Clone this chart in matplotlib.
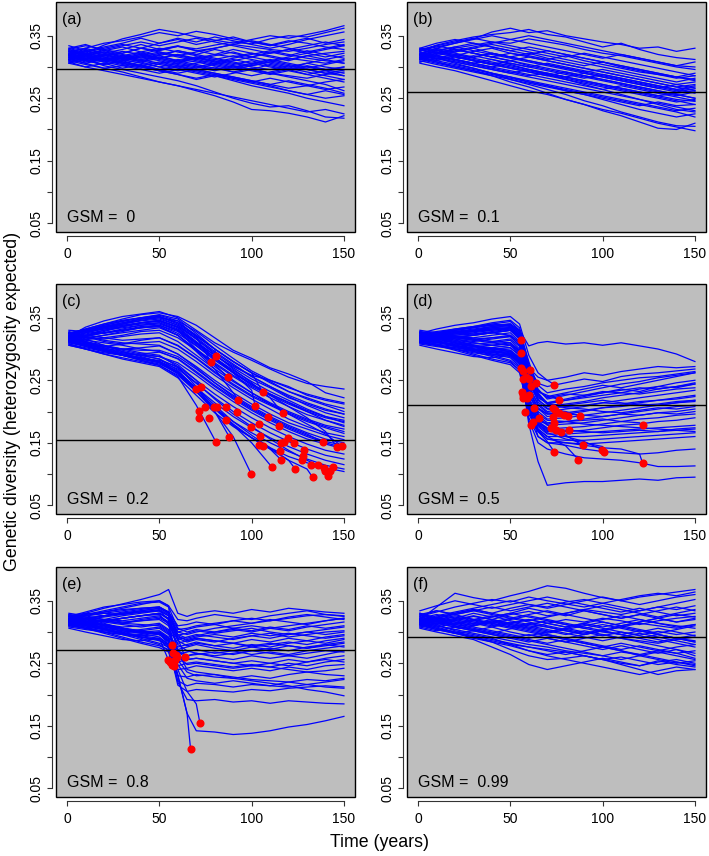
#coding:utf-8
import numpy as np
import matplotlib
matplotlib.use("Agg")
import matplotlib.pyplot as plt
from matplotlib.patches import Rectangle

plt.rcParams['font.family'] = ['Liberation Sans', 'DejaVu Sans']

# knot years for the trajectories
T_STD = [1, 10, 20, 30, 40, 50, 60, 70, 80, 90, 100, 110, 120, 130, 140, 150]
T_DROP = [1, 10, 20, 30, 40, 50, 55, 60, 65, 70, 80, 90, 100, 110, 120, 130, 140, 150]

# all diversity values below are x1000
# ---- (a) GSM = 0
a_lines = [
    [320, 325, 318, 322, 330, 326, 333, 329, 335, 340, 337, 345, 350, 348, 355, 362],
    [315, 322, 335, 345, 352, 360, 355, 348, 343, 338, 344, 350, 346, 352, 358, 366],
    [325, 330, 338, 342, 348, 355, 350, 357, 352, 345, 340, 335, 342, 338, 332, 328],
    [318, 312, 318, 325, 320, 328, 333, 326, 330, 336, 332, 328, 325, 330, 336, 340],
    [330, 322, 316, 310, 318, 312, 306, 314, 320, 316, 322, 318, 312, 318, 322, 325],
    [312, 318, 310, 304, 298, 305, 312, 308, 302, 296, 302, 308, 314, 310, 306, 312],
    [322, 316, 320, 314, 308, 300, 294, 300, 306, 312, 306, 300, 295, 301, 296, 300],
    [310, 304, 298, 302, 296, 290, 296, 290, 284, 290, 296, 290, 286, 282, 288, 292],
    [328, 320, 312, 306, 300, 294, 288, 282, 288, 282, 276, 282, 276, 270, 276, 280],
    [316, 310, 314, 308, 302, 308, 302, 296, 290, 284, 278, 272, 266, 270, 264, 268],
    [306, 300, 294, 288, 282, 276, 270, 264, 258, 252, 246, 240, 234, 228, 232, 225],
    [320, 312, 302, 296, 290, 284, 278, 270, 260, 250, 242, 236, 238, 230, 220, 218],
    [314, 306, 298, 292, 284, 276, 270, 262, 254, 244, 232, 230, 226, 220, 212, 222],
    [324, 318, 312, 318, 312, 306, 300, 294, 288, 282, 276, 270, 262, 256, 250, 254],
    [312, 318, 324, 318, 324, 330, 324, 318, 312, 306, 300, 296, 302, 296, 290, 286],
    [318, 324, 330, 336, 330, 324, 318, 324, 330, 336, 342, 336, 330, 324, 330, 336],
    [308, 314, 308, 302, 308, 314, 320, 314, 308, 314, 320, 326, 320, 314, 310, 306],
    [326, 320, 326, 320, 314, 320, 326, 320, 314, 308, 302, 308, 302, 296, 290, 295],
    [320, 314, 308, 314, 320, 314, 308, 302, 296, 302, 296, 290, 284, 278, 272, 262],
    [316, 322, 316, 310, 316, 322, 316, 310, 304, 310, 316, 310, 304, 298, 304, 310],
    [328, 334, 328, 334, 340, 334, 340, 346, 340, 334, 328, 322, 328, 334, 340, 334],
    [312, 306, 312, 306, 300, 294, 300, 306, 312, 318, 312, 306, 300, 306, 312, 318],
    [322, 328, 322, 316, 310, 316, 310, 304, 298, 292, 286, 292, 298, 292, 286, 280],
    [314, 320, 314, 308, 302, 296, 290, 296, 290, 284, 278, 272, 278, 272, 266, 258],
    [318, 310, 304, 310, 316, 310, 304, 298, 304, 298, 304, 310, 316, 322, 316, 322],
    [330, 336, 326, 332, 324, 318, 326, 320, 328, 322, 316, 324, 318, 326, 320, 314],
    [308, 300, 306, 298, 304, 296, 302, 294, 300, 292, 298, 290, 296, 288, 294, 286],
    [324, 330, 322, 328, 336, 328, 334, 326, 320, 328, 322, 316, 310, 318, 312, 306],
    [316, 308, 314, 306, 312, 318, 310, 316, 308, 302, 296, 304, 298, 306, 300, 296],
    [334, 326, 332, 338, 346, 338, 344, 336, 342, 348, 340, 334, 340, 346, 338, 344],
    [310, 316, 310, 316, 310, 304, 298, 292, 286, 280, 274, 268, 262, 256, 262, 256],
    [320, 326, 320, 314, 320, 314, 308, 316, 310, 304, 310, 302, 296, 302, 296, 290],
    [326, 318, 324, 316, 322, 314, 320, 312, 318, 324, 316, 322, 328, 322, 328, 334],
    [312, 320, 328, 322, 330, 338, 346, 340, 348, 342, 336, 330, 336, 344, 350, 356],
    [318, 312, 304, 310, 302, 294, 288, 280, 286, 278, 270, 264, 258, 250, 244, 238],
    [322, 314, 320, 312, 318, 324, 318, 312, 306, 300, 306, 312, 306, 300, 294, 300],
    [306, 312, 318, 312, 306, 300, 306, 300, 294, 300, 294, 288, 294, 288, 282, 276],
]
a_hline = 0.297

# ---- (b) GSM = 0.1
b_lines = [
    [320, 330, 338, 345, 356, 362, 355, 358, 350, 345, 340, 336, 330, 332, 325, 330],
    [325, 335, 342, 348, 352, 355, 360, 352, 348, 340, 332, 338, 328, 320, 315, 312],
    [315, 322, 330, 335, 340, 338, 345, 340, 335, 328, 322, 318, 312, 306, 300, 296],
    [318, 324, 318, 325, 330, 322, 318, 312, 318, 310, 304, 298, 292, 288, 284, 290],
    [330, 326, 320, 315, 322, 316, 310, 304, 298, 292, 296, 290, 284, 278, 272, 276],
    [312, 318, 312, 306, 300, 306, 300, 294, 288, 282, 288, 282, 276, 270, 264, 270],
    [322, 316, 310, 304, 298, 292, 286, 290, 284, 278, 272, 266, 260, 254, 258, 262],
    [310, 304, 298, 292, 286, 280, 274, 268, 262, 256, 250, 244, 238, 244, 238, 240],
    [328, 322, 316, 310, 304, 298, 292, 286, 280, 274, 268, 262, 256, 250, 244, 248],
    [316, 310, 304, 298, 290, 284, 276, 270, 262, 256, 248, 240, 232, 226, 220, 225],
    [306, 300, 294, 286, 278, 270, 262, 256, 248, 240, 232, 226, 218, 210, 204, 198],
    [320, 314, 306, 298, 290, 280, 272, 264, 256, 246, 238, 228, 220, 212, 206, 205],
    [314, 308, 300, 294, 286, 276, 268, 258, 248, 240, 230, 222, 212, 202, 200, 210],
    [324, 318, 312, 318, 312, 304, 296, 288, 280, 272, 264, 256, 248, 240, 232, 228],
    [312, 318, 312, 306, 312, 306, 300, 306, 300, 294, 288, 282, 276, 270, 264, 258],
    [318, 326, 332, 338, 332, 326, 332, 326, 320, 314, 308, 302, 296, 290, 284, 280],
    [308, 314, 308, 302, 296, 290, 296, 290, 284, 278, 272, 266, 260, 254, 248, 245],
    [326, 332, 338, 344, 350, 344, 338, 332, 326, 320, 314, 320, 314, 308, 302, 300],
    [320, 314, 320, 314, 308, 302, 296, 290, 284, 290, 284, 278, 272, 266, 260, 265],
    [316, 322, 328, 322, 316, 310, 304, 298, 292, 286, 280, 274, 268, 262, 256, 250],
    [328, 334, 340, 346, 340, 334, 328, 322, 316, 322, 316, 310, 304, 298, 292, 286],
    [312, 306, 300, 294, 288, 282, 276, 270, 264, 258, 252, 246, 240, 234, 228, 220],
    [322, 328, 322, 316, 322, 316, 310, 304, 298, 292, 286, 280, 274, 268, 262, 268],
    [314, 308, 302, 296, 290, 284, 278, 272, 266, 260, 254, 248, 242, 236, 230, 234],
    [322, 330, 324, 330, 322, 316, 322, 314, 308, 302, 308, 300, 294, 288, 282, 286],
    [318, 312, 318, 310, 304, 310, 302, 296, 290, 284, 278, 272, 266, 260, 254, 260],
    [326, 334, 328, 322, 316, 310, 316, 310, 304, 298, 292, 286, 280, 274, 268, 272],
    [312, 318, 312, 306, 300, 294, 288, 282, 276, 270, 264, 270, 264, 258, 252, 246],
    [330, 338, 344, 338, 332, 326, 320, 326, 320, 314, 308, 302, 296, 290, 284, 278],
    [316, 310, 316, 310, 304, 298, 292, 286, 292, 286, 280, 274, 268, 262, 256, 250],
    [320, 326, 332, 326, 320, 314, 308, 302, 296, 290, 284, 278, 272, 266, 272, 266],
    [308, 314, 308, 302, 296, 290, 284, 278, 272, 266, 260, 254, 248, 242, 236, 230],
    [324, 318, 324, 330, 336, 330, 324, 318, 312, 306, 300, 294, 288, 282, 276, 282],
    [314, 320, 326, 332, 338, 344, 350, 344, 338, 332, 326, 320, 314, 308, 302, 308],
    [328, 322, 328, 322, 316, 322, 316, 310, 304, 298, 292, 286, 280, 274, 268, 262],
    [318, 324, 318, 312, 306, 300, 294, 288, 282, 276, 270, 264, 258, 252, 246, 240],
]
b_hline = 0.260

# ---- (c) GSM = 0.2
c_lines = [
    [320, 335, 345, 352, 356, 360, 350, 330, 310, 295, 282, 268, 255, 245, 240, 236],
    [325, 332, 340, 348, 355, 358, 352, 338, 318, 298, 285, 270, 260, 248, 230, 222],
    [315, 326, 334, 340, 348, 352, 340, 320, 300, 280, 262, 248, 232, 222, 212, 205],
    [318, 322, 328, 336, 342, 345, 335, 312, 290, 270, 252, 238, 222, 212, 202, 196],
    [330, 328, 325, 330, 336, 338, 325, 305, 282, 262, 242, 228, 215, 202, 192, 186],
    [312, 315, 318, 322, 328, 330, 318, 298, 276, 256, 238, 222, 208, 195, 186, 178],
    [322, 318, 316, 320, 324, 326, 312, 290, 268, 248, 230, 214, 200, 188, 178, 172],
    [310, 306, 304, 308, 314, 318, 305, 285, 262, 242, 224, 210, 196, 184, 174, 165],
    [328, 320, 312, 308, 310, 312, 300, 280, 258, 238, 220, 204, 188, 176, 166, 160],
    [316, 310, 304, 300, 302, 305, 292, 272, 250, 230, 212, 196, 182, 172, 162, 155],
    [306, 300, 294, 290, 292, 295, 285, 264, 242, 222, 204, 188, 174, 162, 152, 146],
    [320, 312, 302, 294, 290, 288, 278, 258, 236, 216, 198, 182, 168, 156, 148, 140],
    [314, 306, 298, 290, 284, 282, 272, 250, 228, 208, 190, 174, 160, 148, 138, 132],
    [324, 316, 306, 296, 288, 280, 268, 245, 222, 200, 182, 166, 152, 140, 130, 124],
    [312, 304, 296, 290, 282, 276, 262, 238, 214, 192, 174, 158, 144, 132, 122, 115],
    [318, 310, 300, 290, 282, 274, 258, 232, 206, 184, 166, 150, 136, 124, 114, 108],
    [308, 300, 292, 284, 278, 272, 254, 226, 198, 176, 158, 142, 128, 118, 110, 104],
    [326, 330, 338, 344, 350, 354, 345, 328, 306, 285, 265, 250, 238, 228, 220, 214],
    [320, 328, 336, 340, 345, 348, 338, 318, 296, 276, 256, 240, 224, 210, 198, 190],
    [316, 322, 330, 336, 340, 342, 330, 308, 286, 266, 248, 232, 218, 204, 192, 182],
    [322, 330, 336, 342, 348, 352, 342, 322, 300, 280, 262, 246, 232, 220, 210, 200],
    [314, 318, 322, 326, 330, 334, 322, 300, 278, 258, 240, 226, 212, 200, 190, 184],
    [326, 322, 318, 314, 316, 318, 306, 286, 264, 244, 226, 212, 198, 186, 176, 168],
    [310, 316, 322, 328, 334, 338, 328, 306, 284, 262, 244, 228, 214, 200, 186, 176],
    [318, 314, 310, 306, 300, 296, 284, 262, 240, 220, 202, 186, 172, 160, 150, 142],
    [324, 328, 332, 336, 342, 346, 336, 316, 294, 274, 256, 240, 226, 214, 204, 196],
    [312, 308, 304, 300, 298, 298, 288, 268, 246, 226, 208, 192, 178, 166, 156, 150],
    [320, 324, 330, 334, 338, 340, 330, 310, 290, 272, 258, 250, 240, 226, 218, 212],
]
# runs that went extinct: knots up to the last one before the red dot
c_dying = [
    [318, 326, 334, 340, 346, 350, 345, 320],
    [322, 330, 338, 345, 350, 355, 348, 325, 300],
    [315, 320, 326, 332, 338, 342, 330, 300, 275],
    [312, 306, 298, 290, 284, 278, 262],
    [320, 312, 304, 298, 292, 288, 275, 250],
    [325, 332, 340, 346, 350, 352, 342, 322, 300, 280, 262],
    [316, 322, 326, 330, 334, 336, 322, 296, 268, 230],
    [310, 304, 298, 292, 286, 280, 262, 232, 200, 160],
    [314, 308, 300, 292, 286, 280, 264, 236, 206, 178, 150],
    [318, 310, 302, 296, 290, 284, 266, 236, 206, 180, 158, 140, 122, 108],
    [306, 300, 292, 286, 280, 274, 256, 210],
    [324, 330, 336, 342, 348, 350, 338, 316, 292, 268, 246, 222],
    [320, 326, 332, 338, 342, 346, 334, 310, 286, 262, 234],
    [312, 306, 298, 292, 286, 280, 264, 238, 210, 184, 162, 142, 122],
    [316, 308, 300, 294, 290, 284, 270, 246, 220, 196, 176, 156, 138, 122, 108],
    [322, 328, 334, 338, 342, 344, 332, 310, 286, 264, 244, 226, 208, 190, 168],
    [314, 320, 326, 330, 334, 336, 322, 298, 272, 250, 230, 212, 196, 180, 164],
    [326, 320, 314, 310, 308, 306, 292, 270, 246, 224, 206, 190, 176, 164],
    [308, 302, 296, 290, 284, 278, 260, 232, 204, 178, 158, 140],
    [318, 312, 306, 300, 294, 290, 272, 240, 200],
]
c_dot_t = [77.8, 80.7, 87.1, 69.8, 72.7, 106.0, 92.7, 99.8, 111.0, 133.0,
           80.7, 117.0, 101.9, 123.7, 141.5, 146.4, 148.7, 138.8, 115.9, 87.8,
           74.7, 71.6, 79.8, 81.1, 85.9, 91.8, 71.6, 76.7, 85.9, 108.8,
           99.6, 103.8, 114.8, 104.7, 119.5, 103.8, 106.1, 116.1, 117.7, 122.8,
           115.2, 128.2, 127.8, 127.3, 131.9, 135.9, 139.1, 140.0, 142.4, 144.2]
c_dot_v = [280, 289, 255, 236, 239, 231, 219, 100, 111, 95,
           151, 197, 209, 108, 97, 143, 145, 151, 123, 160,
           208, 201, 208, 208, 207, 200, 189, 190, 186, 192,
           176, 180, 177, 161, 158, 146, 145, 150, 152, 149,
           137, 138, 129, 122, 114, 114, 110, 105, 105, 112]
c_hline = 0.155

# ---- (d) GSM = 0.5
d_lines = [
    [320, 325, 330, 335, 338, 340, 330, 305, 310, 312, 308, 310, 306, 310, 305, 300, 292, 280],
    [325, 332, 338, 342, 348, 352, 340, 290, 262, 250, 255, 262, 258, 264, 268, 272, 270, 272],
    [315, 322, 326, 330, 336, 340, 325, 270, 245, 240, 246, 252, 248, 256, 260, 262, 265, 268],
    [318, 320, 318, 322, 326, 330, 318, 260, 232, 224, 230, 236, 242, 238, 244, 250, 256, 262],
    [330, 326, 320, 318, 322, 326, 312, 250, 222, 214, 218, 224, 230, 236, 232, 240, 246, 250],
    [312, 316, 318, 314, 318, 320, 306, 245, 218, 208, 212, 216, 222, 226, 230, 236, 240, 244],
    [322, 318, 312, 308, 310, 314, 300, 240, 212, 200, 204, 208, 214, 218, 222, 226, 230, 234],
    [310, 306, 302, 298, 302, 306, 294, 232, 205, 192, 196, 200, 206, 210, 214, 218, 222, 226],
    [328, 322, 314, 306, 300, 302, 290, 228, 200, 188, 190, 194, 198, 202, 206, 210, 214, 216],
    [316, 312, 306, 298, 294, 296, 284, 222, 194, 182, 184, 188, 192, 196, 200, 204, 208, 210],
    [306, 300, 294, 288, 286, 290, 278, 218, 190, 178, 180, 182, 186, 190, 194, 198, 200, 204],
    [320, 314, 306, 298, 292, 286, 272, 212, 184, 172, 174, 176, 180, 184, 188, 190, 194, 196],
    [314, 308, 300, 292, 284, 278, 266, 208, 180, 168, 168, 170, 174, 178, 180, 184, 186, 190],
    [324, 318, 310, 300, 290, 282, 270, 204, 176, 164, 164, 166, 168, 170, 172, 174, 176, 178],
    [312, 306, 298, 290, 282, 275, 262, 200, 172, 160, 160, 160, 162, 164, 166, 168, 170, 172],
    [318, 312, 304, 296, 288, 280, 266, 196, 168, 156, 154, 154, 156, 158, 160, 162, 164, 166],
    [308, 304, 300, 296, 292, 288, 272, 190, 160, 150, 150, 148, 150, 152, 154, 156, 158, 160],
    [326, 320, 312, 306, 300, 296, 280, 180, 120, 82, 86, 88, 88, 90, 92, 90, 94, 95],
    [320, 316, 310, 304, 298, 292, 278, 186, 150, 140, 132, 126, 124, 122, 118, 112, 112, 113],
    [316, 320, 324, 328, 332, 334, 322, 210, 160, 150, 146, 140, 136, 134, 132, 134, 138, 140],
    [322, 326, 330, 334, 338, 340, 328, 280, 236, 220, 226, 232, 238, 244, 248, 254, 258, 262],
    [310, 314, 318, 322, 326, 330, 316, 264, 228, 214, 220, 226, 232, 230, 236, 240, 238, 244],
    [328, 324, 320, 316, 318, 322, 310, 255, 220, 205, 208, 210, 214, 212, 216, 218, 220, 224],
    [318, 322, 326, 330, 334, 338, 326, 268, 230, 212, 210, 214, 218, 214, 210, 212, 216, 218],
    [320, 324, 328, 332, 336, 338, 324, 262, 226, 212, 218, 222, 226, 230, 228, 232, 236, 238],
    [316, 312, 308, 304, 306, 310, 298, 236, 206, 196, 198, 202, 206, 208, 212, 210, 214, 218],
    [324, 328, 332, 336, 342, 346, 334, 276, 242, 230, 236, 240, 246, 250, 254, 256, 260, 264],
    [312, 316, 320, 316, 312, 316, 304, 242, 210, 198, 196, 194, 192, 196, 194, 198, 196, 200],
    [326, 322, 316, 310, 306, 308, 296, 230, 196, 186, 184, 180, 178, 176, 174, 172, 170, 168],
    [318, 322, 326, 324, 328, 332, 320, 258, 224, 212, 206, 204, 200, 198, 202, 206, 204, 208],
    [310, 306, 300, 294, 290, 292, 280, 214, 184, 174, 170, 168, 166, 168, 170, 168, 172, 174],
    [322, 318, 322, 326, 330, 334, 322, 266, 234, 222, 228, 226, 230, 234, 238, 236, 240, 246],
]
d_dying = [
    [320, 326, 332, 336, 340, 338, 330],
    [316, 318, 322, 324, 326, 322, 310],
    [322, 326, 330, 334, 340, 344, 330],
    [318, 320, 324, 328, 332, 334, 318, 270],
    [312, 316, 320, 322, 326, 330, 316, 268],
    [326, 322, 318, 316, 312, 310, 296],
    [314, 310, 306, 300, 296, 292, 280, 220],
    [320, 324, 328, 330, 334, 336, 322, 240, 200],
    [318, 322, 326, 328, 330, 332, 320, 270, 255, 250],
    [324, 320, 316, 312, 316, 320, 306, 250, 232, 226],
    [310, 306, 302, 298, 294, 290, 276, 200, 168, 152],
    [320, 316, 310, 304, 300, 296, 282, 210, 180, 170, 162],
    [316, 312, 306, 300, 296, 292, 276, 205, 172, 160, 145],
    [322, 318, 314, 310, 306, 302, 290, 215, 182, 172, 160, 152],
    [312, 308, 304, 300, 296, 292, 280, 212, 178, 166, 156, 150, 144],
    [318, 314, 310, 306, 302, 298, 286, 218, 190, 180, 184, 186, 188, 184, 182],
    [314, 310, 306, 302, 298, 294, 282, 205, 170, 156, 150, 146, 142, 140, 132],
    [320, 324, 328, 330, 332, 334, 322, 255, 215, 204, 200],
    [316, 312, 308, 304, 300, 298, 286, 225, 204, 196, 196],
    [326, 322, 318, 314, 310, 306, 292, 220, 185, 180],
]
d_dot_t = [55.9, 55.9, 57.1, 61.3, 63.8, 59.9, 62.2, 65.3, 73.9, 76.1,
           73.9, 89.1, 86.9, 99.9, 101.0, 121.7, 121.7, 87.8, 81.5, 72.1,
           55.9, 60.7, 58.4, 57.1, 59.9, 56.2, 57.1, 56.6, 58.9, 62.9,
           58.0, 61.1, 73.0, 74.2, 73.0, 76.6, 78.8, 73.9, 74.8, 77.5, 81.8]
d_dot_v = [314, 294, 265, 241, 246, 227, 184, 189, 243, 219,
           135, 146, 123, 139, 136, 178, 117, 193, 193, 173,
           270, 267, 256, 252, 252, 232, 227, 221, 221, 205,
           200, 179, 205, 202, 191, 197, 195, 181, 171, 168, 171]
d_hline = 0.211

# ---- (e) GSM = 0.8
e_lines = [
    [320, 330, 338, 345, 352, 360, 368, 330, 325, 330, 334, 330, 336, 332, 338, 335, 332, 330],
    [325, 332, 340, 344, 348, 350, 342, 320, 318, 322, 328, 324, 320, 326, 330, 334, 328, 326],
    [315, 322, 326, 330, 334, 338, 332, 310, 312, 316, 312, 318, 314, 320, 316, 312, 318, 322],
    [318, 320, 318, 322, 326, 330, 322, 300, 304, 308, 312, 306, 310, 306, 302, 308, 312, 316],
    [330, 326, 320, 318, 322, 326, 316, 295, 298, 302, 298, 302, 306, 300, 296, 300, 304, 308],
    [312, 316, 318, 314, 318, 320, 310, 288, 292, 296, 292, 288, 294, 298, 292, 296, 300, 302],
    [322, 318, 312, 308, 310, 314, 304, 282, 286, 290, 286, 282, 288, 284, 290, 286, 292, 296],
    [310, 306, 302, 298, 302, 306, 296, 276, 280, 284, 278, 282, 276, 280, 284, 280, 286, 290],
    [328, 322, 314, 306, 300, 302, 292, 272, 276, 280, 274, 270, 276, 272, 278, 274, 280, 284],
    [316, 312, 306, 298, 294, 296, 286, 264, 268, 272, 266, 270, 264, 268, 264, 270, 274, 278],
    [306, 300, 294, 288, 286, 290, 280, 258, 262, 266, 260, 256, 262, 258, 262, 258, 264, 270],
    [320, 314, 306, 298, 292, 286, 278, 252, 256, 258, 254, 250, 254, 250, 256, 252, 258, 262],
    [314, 308, 300, 292, 284, 278, 272, 246, 250, 252, 248, 244, 248, 244, 250, 246, 252, 256],
    [324, 318, 310, 300, 290, 282, 276, 240, 242, 246, 242, 238, 242, 238, 244, 240, 246, 248],
    [312, 306, 298, 290, 282, 275, 268, 230, 228, 232, 228, 226, 230, 226, 232, 236, 238, 242],
    [318, 312, 304, 296, 288, 280, 270, 222, 214, 218, 216, 212, 216, 214, 212, 216, 220, 224],
    [308, 304, 300, 296, 292, 288, 278, 215, 205, 208, 206, 204, 208, 206, 210, 212, 214, 212],
    [326, 320, 312, 306, 300, 296, 284, 232, 170, 142, 140, 136, 138, 142, 148, 152, 158, 165],
    [320, 316, 310, 304, 298, 292, 280, 220, 192, 190, 192, 188, 190, 186, 190, 188, 186, 185],
    [316, 320, 324, 328, 332, 334, 326, 268, 240, 236, 232, 228, 224, 222, 220, 216, 212, 210],
    [322, 326, 330, 334, 338, 340, 332, 296, 290, 294, 300, 304, 300, 306, 310, 314, 318, 322],
    [310, 314, 318, 322, 326, 330, 320, 290, 284, 288, 284, 290, 294, 290, 296, 300, 296, 300],
    [328, 324, 320, 316, 318, 322, 314, 280, 270, 266, 262, 266, 270, 266, 262, 266, 270, 268],
    [318, 322, 326, 330, 334, 338, 330, 300, 296, 300, 306, 310, 314, 318, 322, 326, 328, 325],
    [314, 310, 304, 298, 296, 300, 290, 255, 236, 230, 232, 226, 222, 218, 214, 208, 204, 198],
    [320, 326, 330, 328, 332, 336, 328, 270, 256, 258, 254, 250, 246, 244, 240, 236, 232, 230],
    [322, 328, 334, 340, 346, 348, 340, 306, 300, 304, 300, 306, 302, 308, 304, 310, 306, 310],
    [316, 312, 318, 314, 320, 324, 316, 292, 288, 292, 296, 292, 298, 294, 298, 294, 290, 294],
    [326, 330, 326, 332, 336, 340, 332, 304, 306, 310, 314, 318, 322, 318, 324, 328, 324, 320],
    [312, 308, 304, 300, 304, 308, 298, 270, 262, 264, 268, 264, 270, 274, 270, 276, 280, 276],
    [318, 322, 316, 322, 326, 330, 322, 286, 278, 282, 278, 274, 280, 276, 282, 286, 282, 288],
    [324, 320, 316, 312, 308, 312, 302, 262, 248, 250, 246, 242, 246, 250, 246, 252, 256, 252],
    [310, 316, 320, 326, 330, 334, 326, 294, 286, 290, 286, 282, 278, 282, 278, 274, 278, 282],
    [320, 314, 308, 302, 298, 300, 290, 248, 226, 222, 218, 222, 218, 214, 220, 224, 222, 226],
]
e_dying = [
    [320, 326, 332, 338, 344, 350, 342],
    [316, 310, 304, 298, 294, 290],
    [322, 318, 312, 306, 300, 298, 290],
    [318, 322, 326, 330, 332, 334, 320],
    [312, 316, 318, 322, 326, 328, 312],
    [326, 322, 318, 314, 312, 310, 300],
    [314, 310, 306, 302, 300, 298, 286],
    [320, 316, 312, 306, 302, 298, 280],
    [310, 306, 300, 296, 292, 288, 274],
    [324, 328, 332, 336, 338, 340, 330, 290],
    [318, 314, 310, 306, 302, 298, 286, 230, 170],
    [316, 312, 308, 304, 300, 296, 288, 240, 205, 185],
]
e_dot_t = [57.0, 54.8, 55.7, 57.5, 59.0, 59.7, 58.4, 56.6, 57.9, 63.9, 66.9, 72.0]
e_dot_v = [280, 256, 252, 266, 263, 260, 255, 247, 245, 260, 113, 154]
e_hline = 0.272

# ---- (f) GSM = 0.99
f_lines = [
    [320, 340, 362, 355, 350, 358, 365, 374, 370, 362, 355, 350, 356, 360, 364, 368],
    [325, 332, 340, 346, 352, 348, 356, 350, 345, 340, 346, 352, 358, 362, 358, 364],
    [315, 322, 330, 336, 330, 338, 344, 340, 348, 352, 346, 340, 334, 340, 346, 352],
    [318, 312, 318, 325, 320, 328, 333, 326, 330, 336, 332, 328, 334, 340, 336, 342],
    [330, 322, 316, 310, 318, 312, 306, 314, 320, 316, 322, 318, 312, 318, 322, 325],
    [312, 318, 310, 304, 298, 305, 312, 308, 302, 296, 302, 308, 314, 310, 306, 312],
    [322, 316, 320, 314, 308, 300, 294, 300, 306, 312, 306, 300, 295, 301, 296, 300],
    [310, 304, 298, 302, 296, 290, 296, 290, 284, 290, 296, 290, 286, 282, 288, 292],
    [328, 320, 312, 306, 300, 294, 288, 282, 288, 282, 276, 282, 276, 270, 276, 280],
    [316, 310, 304, 298, 292, 286, 280, 276, 270, 266, 262, 268, 264, 270, 266, 270],
    [306, 300, 294, 288, 276, 264, 248, 240, 246, 252, 258, 252, 246, 254, 248, 244],
    [320, 312, 302, 296, 290, 280, 270, 262, 256, 250, 244, 238, 232, 238, 244, 240],
    [314, 306, 298, 292, 284, 272, 262, 256, 258, 262, 256, 250, 246, 252, 256, 250],
    [324, 318, 312, 318, 312, 306, 300, 294, 288, 282, 276, 270, 262, 256, 250, 254],
    [312, 318, 324, 318, 324, 330, 324, 318, 312, 306, 300, 296, 302, 296, 290, 286],
    [318, 324, 330, 336, 330, 324, 318, 324, 330, 336, 342, 336, 330, 324, 330, 336],
    [308, 314, 308, 302, 308, 314, 320, 314, 308, 314, 320, 326, 320, 314, 310, 306],
    [326, 320, 326, 320, 314, 320, 326, 320, 314, 308, 302, 308, 302, 296, 290, 295],
    [320, 314, 308, 314, 320, 314, 308, 302, 296, 302, 296, 290, 284, 278, 272, 262],
    [316, 322, 316, 310, 316, 322, 316, 310, 304, 310, 316, 310, 304, 298, 304, 310],
    [328, 334, 328, 334, 340, 334, 340, 346, 340, 334, 328, 322, 328, 334, 340, 334],
    [312, 306, 300, 294, 288, 282, 276, 270, 264, 270, 276, 270, 264, 258, 252, 248],
    [322, 328, 322, 316, 310, 316, 310, 304, 298, 292, 286, 292, 298, 292, 286, 280],
    [314, 320, 314, 308, 302, 296, 290, 296, 290, 284, 278, 272, 278, 272, 266, 258],
    [318, 310, 304, 310, 316, 310, 304, 298, 304, 298, 304, 310, 316, 322, 316, 322],
    [316, 308, 300, 292, 286, 280, 276, 272, 268, 262, 256, 248, 240, 232, 238, 240],
    [330, 322, 328, 320, 326, 318, 312, 318, 312, 306, 312, 306, 300, 306, 300, 294],
    [310, 318, 312, 320, 314, 308, 314, 308, 302, 296, 302, 296, 290, 296, 290, 284],
    [324, 316, 322, 330, 324, 330, 338, 332, 326, 334, 328, 322, 328, 322, 316, 320],
    [316, 324, 318, 312, 318, 312, 306, 300, 306, 300, 294, 300, 294, 288, 282, 276],
    [334, 342, 350, 344, 338, 344, 350, 356, 350, 344, 338, 332, 338, 332, 326, 330],
    [312, 304, 298, 290, 284, 278, 270, 264, 268, 262, 256, 260, 254, 248, 252, 246],
    [320, 314, 320, 326, 320, 314, 320, 314, 308, 314, 308, 314, 320, 314, 308, 312],
    [326, 334, 328, 334, 328, 322, 328, 334, 328, 322, 316, 310, 316, 322, 328, 324],
    [308, 302, 308, 302, 296, 290, 284, 290, 284, 278, 272, 278, 272, 266, 272, 266],
    [318, 326, 332, 338, 344, 350, 344, 338, 344, 350, 356, 350, 344, 350, 356, 360],
    [322, 316, 310, 304, 298, 292, 286, 280, 274, 268, 262, 256, 262, 268, 262, 256],
    [314, 308, 314, 320, 314, 308, 302, 296, 290, 296, 302, 296, 290, 284, 290, 284],
]
f_hline = 0.292

panel_tags = ['(a)', '(b)', '(c)', '(d)', '(e)', '(f)']
gsm_labels = ['GSM =  0', 'GSM =  0.1', 'GSM =  0.2', 'GSM =  0.5', 'GSM =  0.8', 'GSM =  0.99']

LINE_BLUE = '#0000FF'
BG = '#BEBEBE'
LW = 0.9


def style_axes(ax):
    ax.set_facecolor(BG)
    ax.set_xlim(-6, 156)
    ax.set_ylim(0.036, 0.404)
    for side in ['top', 'right']:
        ax.spines[side].set_visible(False)
    # R style: box round the plot, axes drawn slightly outside
    ax.add_patch(Rectangle((0, 0), 1, 1, transform=ax.transAxes, fill=False,
                           ec='black', lw=1.0, clip_on=False, zorder=6))
    ax.spines['left'].set_position(('outward', 3))
    ax.spines['bottom'].set_position(('outward', 3))
    ax.spines['left'].set_bounds(0.05, 0.35)
    ax.spines['bottom'].set_bounds(0, 150)
    ax.spines['left'].set_color('#333333')
    ax.spines['bottom'].set_color('#333333')
    ax.set_xticks([0, 50, 100, 150])
    ax.set_xticklabels(['0', '50', '100', '150'])
    ax.set_yticks([0.05, 0.10, 0.15, 0.20, 0.25, 0.30, 0.35])
    ax.set_yticklabels(['0.05', '', '0.15', '', '0.25', '', '0.35'])
    ax.tick_params(axis='both', length=3.6, width=0.8, color='#333333', labelsize=10)
    ax.tick_params(axis='x', pad=4)
    ax.tick_params(axis='y', pad=2.5, labelrotation=90)
    for lbl in ax.get_yticklabels():
        lbl.set_va('center')


def draw_panel(ax, T, lines, dying, dot_t, dot_v, hline, tag, gsm):
    for vals in lines:
        ax.plot(T[:len(vals)], np.array(vals) / 1000.0, color=LINE_BLUE, lw=LW, zorder=2)
    for i, vals in enumerate(dying):
        x = list(T[:len(vals)]) + [dot_t[i]]
        y = list(np.array(vals) / 1000.0) + [dot_v[i] / 1000.0]
        ax.plot(x, y, color=LINE_BLUE, lw=LW, zorder=2)
    ax.axhline(hline, color='black', lw=1.0, zorder=3)
    if len(dot_t) > 0:
        ax.plot(dot_t, np.array(dot_v) / 1000.0, 'o', color='red', ms=4.8, mec='red', zorder=4)
    ax.text(0.02, 0.925, tag, transform=ax.transAxes, fontsize=11.5, ha='left', va='center')
    ax.text(0.037, 0.062, gsm, transform=ax.transAxes, fontsize=11.5, ha='left', va='center')
    style_axes(ax)


fig = plt.figure(figsize=(7.09, 8.56), dpi=100)

lefts = [56 / 709.0, 407 / 709.0]
bottoms = [0.7290, 0.3995, 0.0689]
w = 299 / 709.0
h = 230 / 856.0

panels = [
    (T_STD, a_lines, [], [], [], a_hline),
    (T_STD, b_lines, [], [], [], b_hline),
    (T_STD, c_lines, c_dying, c_dot_t, c_dot_v, c_hline),
    (T_DROP, d_lines, d_dying, d_dot_t, d_dot_v, d_hline),
    (T_DROP, e_lines, e_dying, e_dot_t, e_dot_v, e_hline),
    (T_STD, f_lines, [], [], [], f_hline),
]

for k, p in enumerate(panels):
    row, col = k // 2, k % 2
    ax = fig.add_axes([lefts[col], bottoms[row], w, h])
    draw_panel(ax, p[0], p[1], p[2], p[3], p[4], p[5], panel_tags[k], gsm_labels[k])

fig.text(0.017, 0.5315, 'Genetic diversity (heterozygosity expected)', rotation=90,
         ha='center', va='center', fontsize=12.8)
fig.text(0.5346, 0.016, 'Time (years)', ha='center', va='center', fontsize=12.8)

fig.savefig('out.png', dpi=100)
